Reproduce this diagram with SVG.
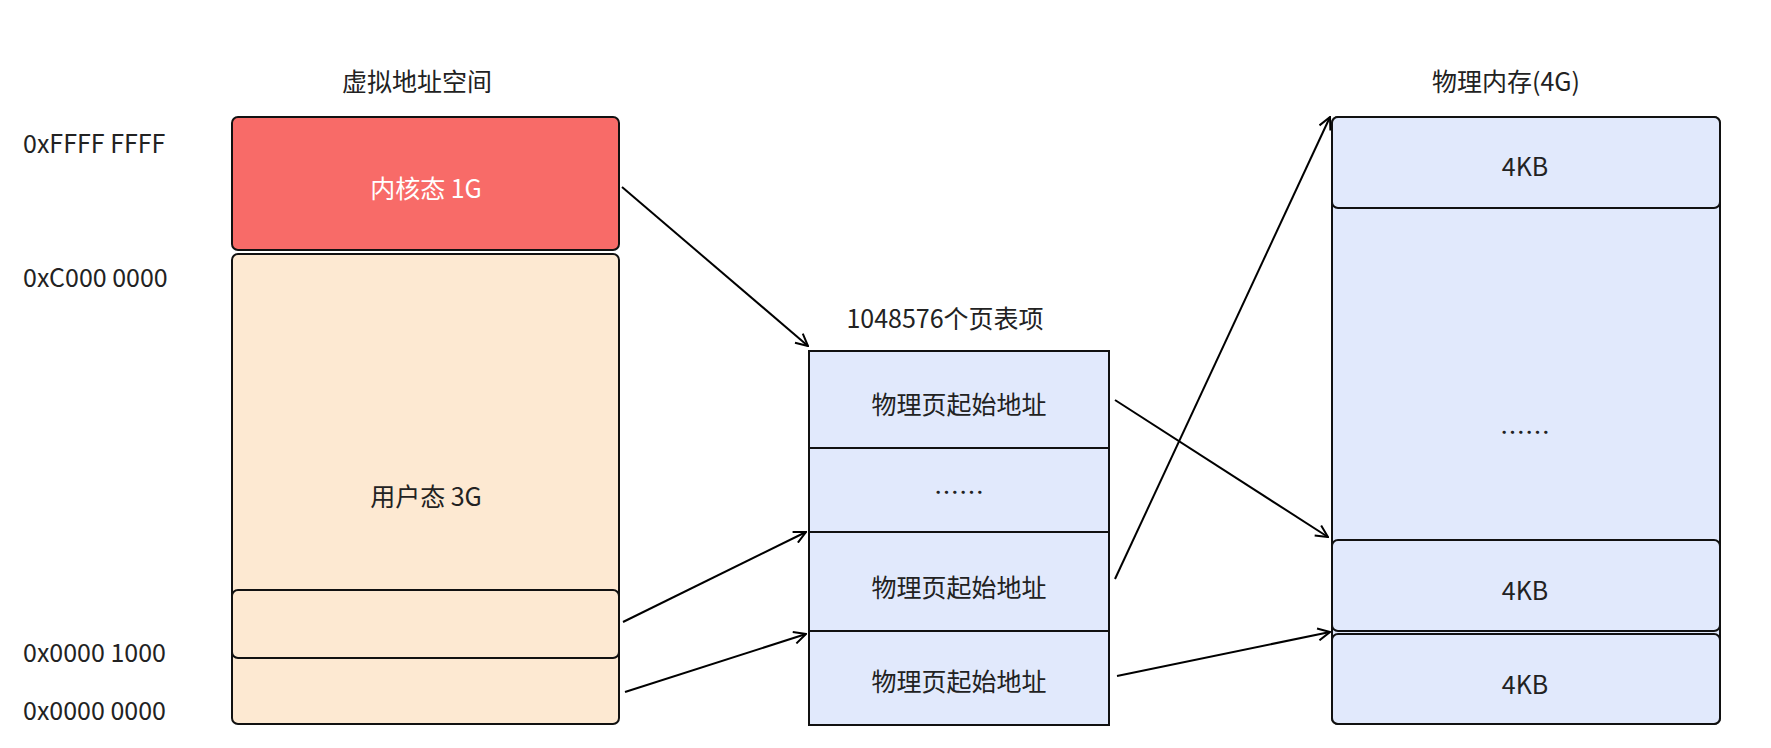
<svg xmlns="http://www.w3.org/2000/svg" width="1771" height="748" viewBox="0 0 1771 748">
<defs>
<style>
text{font-family:"Noto Sans CJK SC","Noto Sans",sans-serif;font-size:25px;fill:#222;text-anchor:middle;dominant-baseline:central}
.l{text-anchor:start}
.b{stroke:#111;stroke-width:2}
.c line{stroke:#000;stroke-width:2;marker-end:url(#a)}
</style>
<marker id="a" markerWidth="14" markerHeight="14" refX="13" refY="7" orient="auto" markerUnits="userSpaceOnUse"><path d="M1,1 L13,7 L1,13" fill="none" stroke="#000" stroke-width="2"/></marker>
</defs>
<rect width="1771" height="748" fill="#fff"/>
<text x="417" y="80">虚拟地址空间</text>
<text x="945" y="317">1048576个页表项</text>
<text x="1506" y="80">物理内存(4G)</text>
<text class="l" x="23" y="142">0xFFFF FFFF</text>
<text class="l" x="23" y="276">0xC000 0000</text>
<text class="l" x="23" y="651">0x0000 1000</text>
<text class="l" x="23" y="709">0x0000 0000</text>
<g id="kernel"><rect class="b" x="232" y="117" width="387" height="133" rx="6" fill="#f86b68"/><text x="426" y="187" style="fill:#fff">内核态 1G</text></g>
<g id="user"><rect class="b" x="232" y="254" width="387" height="470" rx="6" fill="#fde9d2"/><text x="426" y="495">用户态 3G</text></g>
<g id="page0"><rect class="b" x="232" y="590" width="387" height="68" rx="6" fill="#fde9d2"/></g>
<g id="pt1"><rect class="b" x="809" y="351" width="300" height="97" fill="#e1e9fc"/><text x="959" y="403">物理页起始地址</text></g>
<g id="pt2"><rect class="b" x="809" y="448" width="300" height="84" fill="#e1e9fc"/><text x="959" y="491">……</text></g>
<g id="pt3"><rect class="b" x="809" y="532" width="300" height="99" fill="#e1e9fc"/><text x="959" y="586">物理页起始地址</text></g>
<g id="pt4"><rect class="b" x="809" y="631" width="300" height="94" fill="#e1e9fc"/><text x="959" y="680">物理页起始地址</text></g>
<g id="phys"><rect class="b" x="1332" y="117" width="388" height="607" rx="6" fill="#e1e9fc"/><text x="1525" y="431">……</text></g>
<g id="pg1"><rect class="b" x="1332" y="117" width="388" height="91" rx="6" fill="#e1e9fc"/><text x="1525" y="165">4KB</text></g>
<g id="pg2"><rect class="b" x="1332" y="540" width="388" height="91" rx="6" fill="#e1e9fc"/><text x="1525" y="589">4KB</text></g>
<g id="pg3"><rect class="b" x="1332" y="634" width="388" height="90" rx="6" fill="#e1e9fc"/><text x="1525" y="683">4KB</text></g>
<g class="c" id="connectors">
<line x1="622" y1="187" x2="808" y2="346"/>
<line x1="623" y1="622" x2="806" y2="532"/>
<line x1="625" y1="692" x2="806" y2="634"/>
<line x1="1115" y1="400" x2="1328" y2="537"/>
<line x1="1115" y1="579" x2="1330" y2="117"/>
<line x1="1117" y1="676" x2="1330" y2="632"/>
</g>
</svg>
